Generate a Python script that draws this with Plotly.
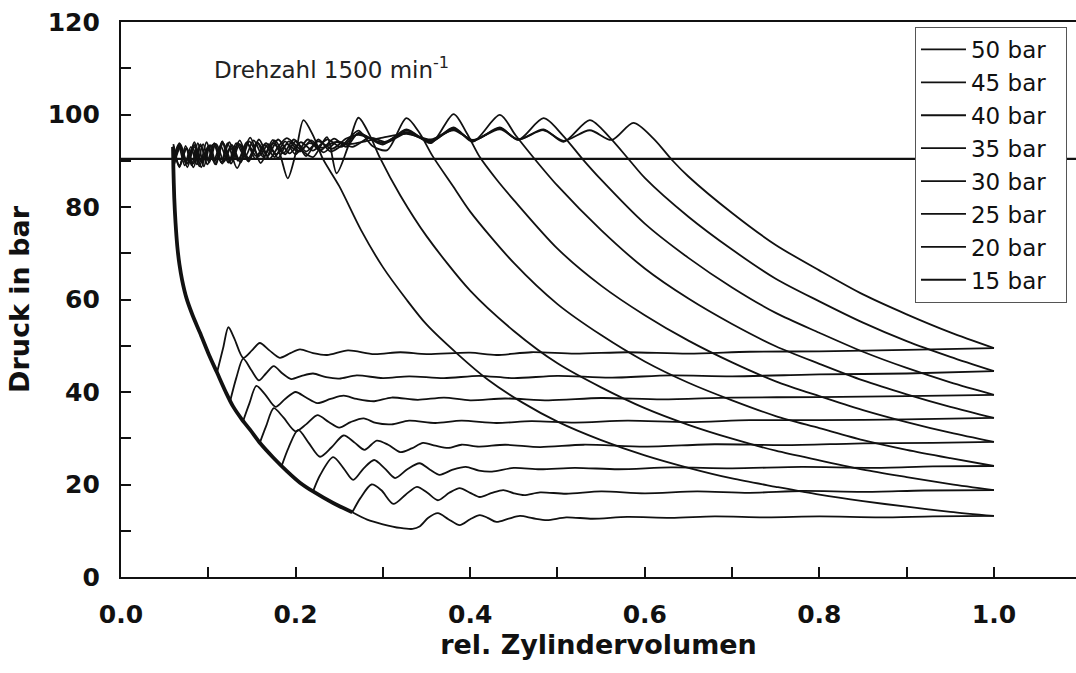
import plotly.graph_objects as go

# ---------------- data ----------------
loop_names = ["50 bar", "45 bar", "40 bar", "35 bar", "30 bar", "25 bar", "20 bar", "15 bar"]

# upper branch: discharge plateau + expansion curve down to x = 1.0
top_x_15 = [0.060, 0.066, 0.073, 0.080, 0.087, 0.094, 0.101, 0.108, 0.115, 0.122, 0.133, 0.148, 0.160, 0.174, 0.182, 0.191, 0.200, 0.209, 0.220, 0.231, 0.250, 0.275, 0.300, 0.327, 0.350, 0.385, 0.420, 0.460, 0.500, 0.550, 0.600, 0.650, 0.700, 0.750, 0.800, 0.850, 0.900, 0.950, 1.000]
top_p_15 = [88.2, 93.4, 89.0, 93.0, 89.2, 93.6, 89.6, 93.4, 89.6, 93.8, 88.4, 95.0, 89.5, 94.5, 91.5, 86.2, 91.5, 98.8, 95.5, 90.5, 84.5, 75.0, 67.0, 60.0, 54.6, 48.3, 42.7, 37.7, 33.6, 29.6, 26.3, 23.6, 21.3, 19.5, 17.8, 16.4, 15.2, 14.1, 13.2]

top_x_20 = [0.060, 0.067, 0.074, 0.081, 0.088, 0.095, 0.102, 0.109, 0.116, 0.124, 0.134, 0.146, 0.158, 0.170, 0.180, 0.190, 0.205, 0.220, 0.236, 0.247, 0.260, 0.272, 0.285, 0.297, 0.320, 0.350, 0.400, 0.450, 0.500, 0.550, 0.600, 0.650, 0.700, 0.750, 0.800, 0.850, 0.900, 0.950, 1.000]
top_p_20 = [92.8, 88.6, 93.2, 89.0, 93.8, 88.8, 93.4, 89.2, 94.2, 89.6, 93.8, 89.8, 94.6, 90.4, 93.0, 94.9, 92.5, 90.8, 95.1, 87.3, 93.0, 99.3, 95.5, 90.5, 82.5, 73.7, 61.9, 53.2, 46.2, 41.0, 36.5, 32.9, 29.9, 27.3, 25.2, 23.2, 21.6, 20.1, 18.8]

top_x_25 = [0.060, 0.068, 0.076, 0.084, 0.092, 0.100, 0.108, 0.116, 0.126, 0.136, 0.146, 0.156, 0.166, 0.176, 0.188, 0.200, 0.212, 0.226, 0.240, 0.256, 0.272, 0.288, 0.305, 0.327, 0.342, 0.357, 0.380, 0.400, 0.450, 0.500, 0.550, 0.600, 0.650, 0.700, 0.750, 0.800, 0.850, 0.900, 0.950, 1.000]
top_p_25 = [89.0, 93.6, 89.4, 93.0, 88.6, 93.2, 90.0, 94.2, 89.4, 93.6, 90.6, 94.0, 90.4, 94.4, 91.4, 94.2, 91.0, 94.6, 92.0, 93.8, 96.5, 93.2, 92.3, 99.2, 96.0, 91.0, 84.6, 79.0, 67.9, 59.0, 52.3, 46.6, 42.0, 38.2, 34.8, 32.2, 29.6, 27.5, 25.7, 24.0]

top_x_30 = [0.060, 0.067, 0.075, 0.083, 0.091, 0.099, 0.107, 0.115, 0.124, 0.134, 0.144, 0.154, 0.165, 0.176, 0.188, 0.200, 0.214, 0.228, 0.244, 0.258, 0.272, 0.300, 0.327, 0.355, 0.381, 0.396, 0.411, 0.430, 0.450, 0.500, 0.550, 0.600, 0.650, 0.700, 0.750, 0.800, 0.850, 0.900, 0.950, 1.000]
top_p_30 = [93.2, 88.8, 92.8, 89.4, 93.6, 89.2, 93.2, 89.6, 94.0, 90.0, 94.0, 90.4, 93.4, 90.8, 94.2, 91.4, 94.6, 92.2, 94.8, 93.0, 96.0, 93.5, 96.8, 93.8, 100.1, 96.0, 90.8, 86.0, 81.5, 71.0, 63.0, 56.6, 51.1, 46.4, 42.3, 39.1, 36.1, 33.5, 31.2, 29.2]

top_x_35 = [0.060, 0.068, 0.076, 0.084, 0.092, 0.100, 0.108, 0.117, 0.126, 0.136, 0.146, 0.157, 0.168, 0.180, 0.193, 0.206, 0.220, 0.236, 0.252, 0.272, 0.300, 0.327, 0.355, 0.381, 0.403, 0.434, 0.452, 0.472, 0.500, 0.550, 0.600, 0.650, 0.700, 0.750, 0.800, 0.850, 0.900, 0.950, 1.000]
top_p_35 = [89.4, 93.2, 88.6, 93.4, 89.8, 93.0, 89.2, 93.8, 90.2, 94.4, 90.0, 93.8, 91.0, 94.6, 91.6, 94.0, 92.2, 94.6, 93.0, 95.8, 93.8, 96.5, 94.0, 97.2, 94.1, 99.9, 95.5, 90.8, 84.6, 75.0, 66.7, 60.2, 54.7, 49.9, 46.1, 42.5, 39.5, 36.8, 34.4]

top_x_40 = [0.060, 0.067, 0.074, 0.082, 0.090, 0.098, 0.106, 0.114, 0.123, 0.132, 0.142, 0.152, 0.163, 0.174, 0.186, 0.198, 0.212, 0.226, 0.242, 0.258, 0.272, 0.300, 0.327, 0.355, 0.381, 0.403, 0.434, 0.455, 0.484, 0.506, 0.529, 0.550, 0.600, 0.650, 0.700, 0.750, 0.800, 0.850, 0.900, 0.950, 1.000]
top_p_40 = [90.6, 93.8, 89.6, 92.8, 88.8, 94.0, 90.0, 93.2, 89.6, 93.8, 90.8, 94.4, 90.8, 93.8, 91.6, 94.6, 92.0, 94.2, 92.6, 94.8, 95.6, 94.0, 96.2, 94.4, 97.0, 94.3, 97.2, 94.5, 99.2, 95.5, 90.3, 85.9, 76.4, 69.0, 62.6, 57.1, 52.8, 48.7, 45.2, 42.1, 39.4]

top_x_45 = [0.060, 0.068, 0.076, 0.084, 0.092, 0.100, 0.109, 0.118, 0.127, 0.137, 0.147, 0.158, 0.169, 0.180, 0.192, 0.205, 0.218, 0.232, 0.248, 0.265, 0.285, 0.305, 0.327, 0.355, 0.381, 0.403, 0.434, 0.455, 0.484, 0.507, 0.537, 0.560, 0.583, 0.600, 0.650, 0.700, 0.750, 0.800, 0.850, 0.900, 0.950, 1.000]
top_p_45 = [88.6, 92.8, 89.4, 94.0, 89.8, 92.6, 93.6, 89.8, 93.4, 89.6, 94.2, 91.0, 93.6, 90.6, 94.2, 92.0, 94.4, 91.8, 94.2, 93.0, 95.0, 94.0, 96.0, 94.2, 96.8, 94.4, 97.0, 94.6, 96.8, 94.1, 98.8, 95.0, 90.0, 86.3, 77.9, 70.8, 64.5, 59.6, 55.0, 51.0, 47.6, 44.5]

top_x_50 = [0.060, 0.067, 0.075, 0.083, 0.091, 0.099, 0.107, 0.116, 0.125, 0.135, 0.145, 0.155, 0.166, 0.178, 0.190, 0.203, 0.216, 0.230, 0.245, 0.262, 0.280, 0.300, 0.327, 0.355, 0.381, 0.403, 0.434, 0.455, 0.484, 0.507, 0.537, 0.562, 0.587, 0.610, 0.632, 0.650, 0.700, 0.750, 0.800, 0.850, 0.900, 0.950, 1.000]
top_p_50 = [93.6, 89.0, 92.6, 88.6, 93.2, 90.2, 93.8, 89.4, 92.8, 90.4, 93.6, 91.0, 93.8, 91.4, 93.6, 92.0, 93.8, 92.8, 94.0, 93.6, 94.2, 95.0, 95.8, 94.6, 96.6, 94.5, 96.8, 94.6, 96.6, 94.3, 96.6, 94.5, 98.2, 94.8, 90.0, 86.6, 78.7, 71.8, 66.3, 61.1, 56.8, 52.9, 49.5]

# lower branch: suction line from the branch point on the re-expansion curve to x = 1.0
bot_x_50 = [0.110, 0.117, 0.123, 0.130, 0.140, 0.150, 0.159, 0.170, 0.182, 0.194, 0.205, 0.220, 0.236, 0.260, 0.290, 0.320, 0.350, 0.400, 0.430, 0.470, 0.520, 0.580, 0.650, 0.720, 0.800, 0.900, 1.000]
bot_p_50 = [44.2, 49.5, 54.0, 51.5, 47.4, 49.0, 50.6, 49.0, 47.4, 48.4, 49.2, 48.4, 48.0, 49.0, 48.2, 48.6, 48.2, 48.5, 48.0, 48.6, 48.3, 48.6, 48.3, 48.7, 48.8, 49.1, 49.5]

bot_x_45 = [0.125, 0.132, 0.140, 0.149, 0.158, 0.166, 0.175, 0.185, 0.195, 0.207, 0.220, 0.235, 0.250, 0.270, 0.300, 0.330, 0.370, 0.410, 0.450, 0.500, 0.560, 0.630, 0.700, 0.800, 0.900, 1.000]
bot_p_45 = [38.0, 43.0, 47.2, 44.8, 42.5, 44.0, 45.6, 44.0, 42.8, 43.5, 44.0, 43.2, 42.9, 43.6, 43.0, 43.4, 43.0, 43.5, 43.0, 43.5, 43.1, 43.6, 43.4, 43.8, 44.0, 44.5]

bot_x_40 = [0.140, 0.147, 0.155, 0.165, 0.177, 0.188, 0.200, 0.212, 0.225, 0.240, 0.255, 0.270, 0.290, 0.310, 0.340, 0.370, 0.400, 0.440, 0.490, 0.550, 0.620, 0.700, 0.800, 0.900, 1.000]
bot_p_40 = [33.8, 37.5, 41.3, 39.5, 36.8, 38.5, 40.0, 38.8, 37.6, 38.5, 39.2, 38.5, 38.0, 38.8, 38.3, 38.8, 38.2, 38.6, 38.2, 38.7, 38.4, 38.8, 38.9, 39.1, 39.4]

bot_x_35 = [0.159, 0.166, 0.175, 0.186, 0.200, 0.212, 0.225, 0.238, 0.250, 0.263, 0.278, 0.292, 0.310, 0.330, 0.360, 0.390, 0.430, 0.470, 0.520, 0.580, 0.650, 0.720, 0.800, 0.900, 1.000]
bot_p_35 = [29.0, 32.5, 36.5, 34.5, 31.5, 33.0, 35.0, 33.5, 32.3, 33.5, 34.3, 33.3, 33.0, 33.8, 33.3, 33.8, 33.3, 33.7, 33.4, 33.8, 33.5, 33.9, 33.9, 34.1, 34.4]

bot_x_30 = [0.184, 0.192, 0.203, 0.215, 0.228, 0.241, 0.255, 0.268, 0.279, 0.293, 0.306, 0.320, 0.333, 0.346, 0.360, 0.375, 0.390, 0.410, 0.440, 0.480, 0.530, 0.600, 0.680, 0.760, 0.850, 0.930, 1.000]
bot_p_30 = [24.0, 28.0, 31.8, 29.0, 26.0, 28.0, 30.6, 29.0, 27.5, 29.5, 28.6, 27.0, 27.8, 29.0, 28.4, 27.9, 28.6, 28.2, 28.6, 28.1, 28.6, 28.2, 28.7, 28.5, 28.9, 29.0, 29.2]

bot_x_25 = [0.220, 0.228, 0.243, 0.255, 0.266, 0.278, 0.290, 0.302, 0.314, 0.328, 0.342, 0.354, 0.365, 0.380, 0.395, 0.410, 0.425, 0.450, 0.480, 0.520, 0.570, 0.630, 0.700, 0.780, 0.860, 0.930, 1.000]
bot_p_25 = [18.5, 22.0, 25.9, 23.5, 21.0, 23.5, 25.3, 23.5, 21.4, 23.3, 24.6, 23.2, 22.1, 23.2, 23.8, 23.0, 22.8, 23.6, 23.3, 23.6, 23.3, 23.7, 23.5, 23.8, 23.6, 23.9, 24.0]

bot_x_20 = [0.265, 0.274, 0.287, 0.298, 0.312, 0.326, 0.339, 0.351, 0.363, 0.376, 0.388, 0.400, 0.411, 0.425, 0.438, 0.450, 0.462, 0.480, 0.510, 0.550, 0.600, 0.660, 0.720, 0.780, 0.850, 0.920, 1.000]
bot_p_20 = [14.0, 17.0, 20.0, 18.8, 15.8, 17.8, 19.5, 18.2, 16.6, 18.2, 19.2, 18.2, 17.3, 18.2, 18.8, 18.1, 17.7, 18.3, 18.0, 18.5, 18.1, 18.5, 18.2, 18.6, 18.4, 18.7, 18.8]

bot_x_15 = [0.265, 0.282, 0.300, 0.320, 0.334, 0.342, 0.352, 0.363, 0.375, 0.388, 0.400, 0.411, 0.420, 0.430, 0.444, 0.457, 0.472, 0.488, 0.510, 0.540, 0.580, 0.630, 0.680, 0.740, 0.800, 0.870, 0.930, 1.000]
bot_p_15 = [14.0, 12.4, 11.4, 10.6, 10.4, 10.9, 12.8, 13.8, 12.5, 11.2, 12.5, 13.4, 12.8, 11.9, 12.6, 13.2, 12.7, 12.3, 12.9, 12.6, 13.0, 12.8, 13.1, 12.9, 13.1, 12.9, 13.1, 13.2]

# common re-expansion curve (shared by all loops)
left_x = [0.0596, 0.0600, 0.0610, 0.0625, 0.0645, 0.0670, 0.0700, 0.0750, 0.0820, 0.0905, 0.100, 0.110, 0.120, 0.128, 0.138, 0.148, 0.160, 0.174, 0.190, 0.205, 0.220, 0.243, 0.265]
left_p = [93.0, 88.5, 82.0, 76.5, 71.5, 67.5, 64.2, 60.3, 56.6, 52.8, 48.4, 44.2, 40.0, 37.0, 34.2, 31.8, 28.8, 25.9, 22.9, 20.4, 18.5, 16.0, 14.0]

# horizontal reference line (discharge pressure)
ref_x = [0.0, 1.094]
ref_p = [90.4, 90.4]

x_major = [0.0, 0.2, 0.4, 0.6, 0.8, 1.0]
x_labels = ["0.0", "0.2", "0.4", "0.6", "0.8", "1.0"]
x_minor = [0.1, 0.3, 0.5, 0.7, 0.9]
y_major = [0, 20, 40, 60, 80, 100, 120]
y_labels = ["0", "20", "40", "60", "80", "100", "120"]
y_minor = [10, 30, 50, 70, 90, 110]

# ---------------- figure ----------------
INK = "#111111"
NBSP = "\u00a0"
loops = [
    (top_x_50, top_p_50, bot_x_50, bot_p_50),
    (top_x_45, top_p_45, bot_x_45, bot_p_45),
    (top_x_40, top_p_40, bot_x_40, bot_p_40),
    (top_x_35, top_p_35, bot_x_35, bot_p_35),
    (top_x_30, top_p_30, bot_x_30, bot_p_30),
    (top_x_25, top_p_25, bot_x_25, bot_p_25),
    (top_x_20, top_p_20, bot_x_20, bot_p_20),
    (top_x_15, top_p_15, bot_x_15, bot_p_15),
]

fig = go.Figure()

fig.add_trace(go.Scatter(x=ref_x, y=ref_p, mode="lines", showlegend=False,
                         line=dict(color=INK, width=2.2), hoverinfo="skip"))
fig.add_trace(go.Scatter(x=left_x, y=left_p, mode="lines", showlegend=False,
                         line=dict(color=INK, width=3.8, shape="spline", smoothing=0.8),
                         hoverinfo="skip"))

for name, (tx, tp, bx, bp) in zip(loop_names, loops):
    fig.add_trace(go.Scatter(
        x=list(tx) + [None] + list(bx),
        y=list(tp) + [None] + list(bp),
        mode="lines", name=name + NBSP * 2, connectgaps=False,
        line=dict(color=INK, width=1.8, shape="spline", smoothing=0.8),
    ))

fig.add_annotation(x=0.104, y=110.0, xref="x", yref="y", xanchor="left", yanchor="middle",
                   text="Drehzahl 1500 min<sup>-1</sup>", showarrow=False,
                   font=dict(family="DejaVu Sans", size=23, color="#222"))

tick_font = dict(family="DejaVu Sans", size=25, color="#111", weight="bold")
title_font = dict(family="DejaVu Sans", size=27, color="#111", weight="bold")

fig.update_layout(
    width=1076, height=673,
    margin=dict(l=121, r=0, t=22, b=96),
    paper_bgcolor="white", plot_bgcolor="white",
    showlegend=True,
    legend=dict(x=0.8314, y=0.991, xanchor="left", yanchor="top",
                bgcolor="white", bordercolor="#555", borderwidth=1,
                font=dict(family="DejaVu Sans", size=23, color="#111"),
                itemwidth=45, traceorder="normal"),
    xaxis=dict(range=[0, 1.094], tickvals=x_major, ticktext=x_labels,
               ticks="inside", ticklen=10, tickwidth=2, tickcolor=INK,
               minor=dict(tickvals=x_minor, ticks="inside", ticklen=10, tickwidth=2,
                          tickcolor=INK, showgrid=False),
               showline=True, linecolor=INK, linewidth=2.2, mirror=True,
               showgrid=False, zeroline=False, ticklabelstandoff=14,
               tickfont=tick_font,
               title=dict(text="rel. Zylindervolumen", standoff=4, font=title_font)),
    yaxis=dict(range=[0, 120], tickvals=y_major, ticktext=y_labels,
               ticks="inside", ticklen=10, tickwidth=2, tickcolor=INK,
               minor=dict(tickvals=y_minor, ticks="inside", ticklen=10, tickwidth=2,
                          tickcolor=INK, showgrid=False),
               showline=True, linecolor=INK, linewidth=2.2, mirror=False,
               showgrid=False, zeroline=False, ticklabelstandoff=14,
               tickfont=tick_font,
               title=dict(text="Druck in bar", standoff=10, font=title_font)),
)

fig.write_html("out.html")
